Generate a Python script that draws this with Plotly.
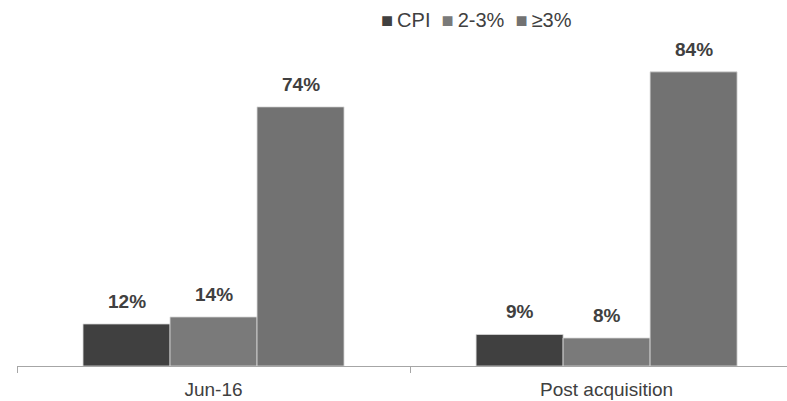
import plotly.graph_objects as go

categories = ["Jun-16", "Post acquisition"]
series_names = ["CPI", "2-3%", "≥3%"]
cpi = [12, 9]
band_2_3 = [14, 8]
band_3_plus = [74, 84]
series_values = [cpi, band_2_3, band_3_plus]
colors = ["#404040", "#7a7a7a", "#727272"]

font_family = "Liberation Sans, Arial, sans-serif"
text_color = "#404040"
bargap = 0.336

fig = go.Figure()
for name, vals, col in zip(series_names, series_values, colors):
    fig.add_trace(go.Bar(
        name=name,
        x=categories,
        y=vals,
        marker=dict(color=col, line=dict(color="#d9d9d9", width=0.8)),
        hoverinfo="skip",
        showlegend=False,
    ))

# value labels above each bar, positioned from the grouped-bar geometry
n = len(series_names)
bar_w = (1 - bargap) / n
for i, vals in enumerate(series_values):
    for j, v in enumerate(vals):
        fig.add_annotation(
            x=j + (i - (n - 1) / 2) * bar_w,
            y=v,
            text=f"<b>{v}%</b>",
            showarrow=False,
            yanchor="bottom",
            yshift=10,
            font=dict(family=font_family, size=19, color=text_color),
        )

# compact legend: coloured square glyph directly before each series name
legend_text = "  ".join(
    f'<span style="color:{c}; font-size:20px">■</span>&#8201;{nm}'
    for nm, c in zip(series_names, colors)
)
fig.add_annotation(
    xref="paper", yref="paper",
    x=0.597, y=1.0, yshift=20,
    xanchor="center", yanchor="middle",
    text=legend_text,
    showarrow=False,
    font=dict(family=font_family, size=20, color=text_color),
)

fig.update_layout(
    width=787,
    height=401,
    margin=dict(l=17, r=0, t=40, b=35),
    paper_bgcolor="white",
    plot_bgcolor="white",
    barmode="group",
    bargap=bargap,
    bargroupgap=0,
    font=dict(family=font_family, size=19, color=text_color),
    showlegend=False,
)

fig.update_xaxes(
    type="category",
    range=[-0.5, 1.459],
    showline=True,
    linecolor="#a6a6a6",
    linewidth=1,
    ticks="outside",
    tickson="boundaries",
    ticklen=6,
    tickcolor="#a6a6a6",
    tickfont=dict(size=19, color=text_color),
    ticklabelstandoff=6,
    showgrid=False,
    zeroline=False,
)
fig.update_yaxes(
    range=[0, 93.1],
    visible=False,
    showgrid=False,
    zeroline=False,
)

fig.write_html("out.html")
